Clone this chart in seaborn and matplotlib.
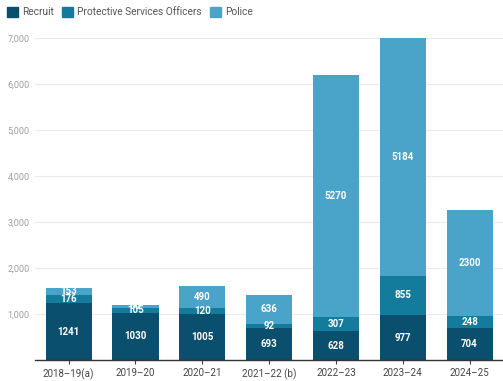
import numpy as np
import pandas as pd
import matplotlib.pyplot as plt
import seaborn as sns
from matplotlib.patches import Patch

years = ["2018\u201319(a)", "2019\u201320", "2020\u201321", "2021\u201322 (b)",
         "2022\u201323", "2023\u201324", "2024\u201325"]
recruit = [1241, 1030, 1005, 693, 628, 977, 704]
pso = [176, 105, 120, 92, 307, 855, 248]
police = [153, 60, 490, 636, 5270, 5184, 2300]

c_recruit = "#0b4f6e"
c_pso = "#137b9b"
c_police = "#4aa3c8"

sns.set_theme(style="white")
plt.rcParams['font.family'] = ['Roboto', 'DejaVu Sans']

fig = plt.figure(figsize=(5.03, 3.81), dpi=100)
ax = fig.add_axes([0.07, 0.055, 0.93, 0.845])

rec = np.array(recruit)
ps = np.array(pso)
bottom2 = rec + ps

bar_kw = dict(width=0.69, ax=ax, zorder=3, saturation=1, linewidth=0)
sns.barplot(x=years, y=recruit, color=c_recruit, **bar_kw)
sns.barplot(x=years, y=pso, bottom=rec, color=c_pso, **bar_kw)
sns.barplot(x=years, y=police, bottom=bottom2, color=c_police, **bar_kw)

# value labels in the middle of each segment
for i in range(len(years)):
    segs = [(0, recruit[i]), (recruit[i], pso[i]), (bottom2[i], police[i])]
    for b, v in segs:
        y = b + v / 2
        if y > 7000:
            continue
        ax.text(i, y, str(v), ha="center", va="center", color="white",
                fontsize=7, fontweight="semibold", zorder=5)

ax.set_ylim(0, 7000)
ax.set_xlim(-0.5, 6.5)
ax.set_yticks(range(0, 7001, 1000))
ax.set_yticklabels([""] + [f"{v:,}" for v in range(1000, 7001, 1000)])
ax.yaxis.grid(True, color="#ebebeb", linewidth=0.8, zorder=0)
ax.tick_params(axis="y", labelsize=6.5, colors="#9e9e9e", length=0, pad=4)
ax.tick_params(axis="x", labelsize=7, colors="#444444", length=3, width=0.8,
               direction="out", pad=3, bottom=True)
ax.tick_params(axis="x", color="#444444")
for s in ["top", "right", "left"]:
    ax.spines[s].set_visible(False)
ax.spines["bottom"].set_color("#333333")
ax.spines["bottom"].set_linewidth(1.0)
ax.spines["bottom"].set_zorder(6)

handles = [Patch(color=c_recruit, label="Recruit"),
           Patch(color=c_pso, label="Protective Services Officers"),
           Patch(color=c_police, label="Police")]
fig.legend(handles=handles, loc="upper left", bbox_to_anchor=(0.0, 1.0), ncol=3,
           frameon=False, fontsize=7.3, handlelength=1.1, handleheight=1.1,
           handletextpad=0.4, columnspacing=0.8, labelcolor="#555555",
           borderaxespad=0.3)

fig.savefig("out.png", dpi=100)
